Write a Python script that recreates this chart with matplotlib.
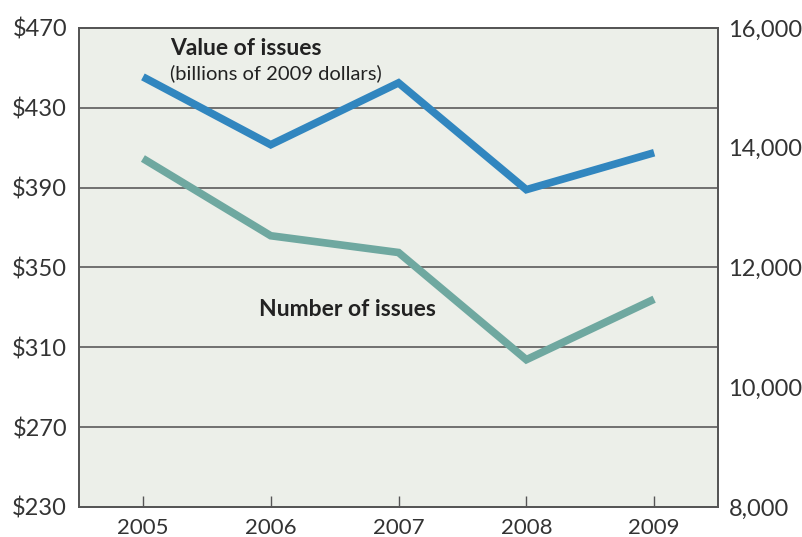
import matplotlib.pyplot as plt

years = [2005, 2006, 2007, 2008, 2009]
value_bn = [445.5, 411.5, 442.5, 389, 407.5]        # billions of 2009 dollars
num_issues = [13820, 12530, 12250, 10460, 11470]     # count

left_ticks = [230, 270, 310, 350, 390, 430, 470]
right_ticks = [8000, 10000, 12000, 14000, 16000]

plt.rcParams['font.family'] = ['Lato', 'DejaVu Sans']

fig = plt.figure(figsize=(8.03, 5.37), dpi=100)
ax = fig.add_axes([0.0984, 0.0559, 0.7958, 0.892])
ax.set_facecolor('#ecefe9')
ax2 = ax.twinx()

ax.set_xlim(2004.5, 2009.5)
ax.set_ylim(230, 470)
ax2.set_ylim(8000, 16000)

for y in left_ticks[1:-1]:
    ax.axhline(y, color='#666666', lw=1.3, zorder=1)

ax.plot(years, value_bn, color='#3186bf', lw=5.5, solid_capstyle='butt',
        solid_joinstyle='miter', zorder=3)
ax2.plot(years, num_issues, color='#6fa8a0', lw=5.5, solid_capstyle='butt',
         solid_joinstyle='miter', zorder=3)

ax.set_yticks(left_ticks)
ax.set_yticklabels(['$%d' % v for v in left_ticks])
ax.tick_params(axis='y', length=0, pad=8.5, labelsize=17, labelcolor='#333333')
ax.set_xticks(years)
ax.tick_params(axis='x', direction='in', length=8, width=1, color='#555555',
               pad=8, labelsize=16, labelcolor='#333333')

ax2.set_yticks(right_ticks)
ax2.set_yticklabels(['{:,}'.format(v) for v in right_ticks])
ax2.tick_params(axis='y', which='major', length=0, pad=7.5, labelsize=17,
                labelcolor='#333333')
ax2.set_yticks([10000, 14000], minor=True)
ax2.tick_params(axis='y', which='minor', direction='in', length=9, width=1,
                color='#555555')

for a in (ax, ax2):
    for s in a.spines.values():
        s.set_color('#555555')
        s.set_linewidth(1.3)

ax.text(2005.21, 459.5, 'Value of issues', fontsize=16.5, fontweight='bold',
        color='#222222', va='center', ha='left')
ax.text(2005.21, 447.5, '(billions of 2009 dollars)', fontsize=14.5,
        color='#222222', va='center', ha='left')
ax.text(2005.91, 329, 'Number of issues', fontsize=16.5, fontweight='bold',
        color='#222222', va='center', ha='left')

fig.savefig('out.png', dpi=100)
